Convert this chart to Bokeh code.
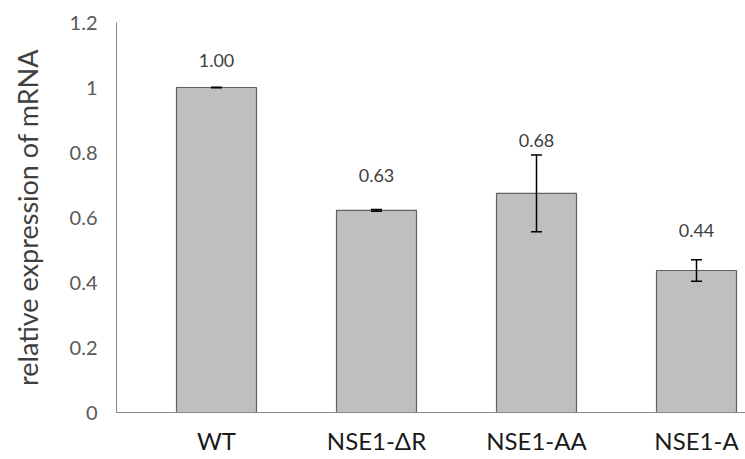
from bokeh.plotting import figure
from bokeh.models import ColumnDataSource, Range1d, FixedTicker, Whisker, TeeHead
from bokeh.embed import file_html
from bokeh.resources import INLINE
from bokeh.core.properties import value

# ---- data ----
categories = ["WT", "NSE1-\u0394R", "NSE1-AA", "NSE1-A"]
means = [1.00, 0.622, 0.674, 0.437]
errors = [0.001, 0.003, 0.118, 0.033]
value_labels = ["1.00", "0.63", "0.68", "0.44"]
y_ticks = [0, 0.2, 0.4, 0.6, 0.8, 1.0, 1.2]
y_tick_labels = ["0", "0.2", "0.4", "0.6", "0.8", "1", "1.2"]

# ---- style ----
label_gap_px = [27, 34, 15, 29]
FONT = "Lato"
W, H = 745, 459
BL, BB, BT, BR = 116, 47, 22, 0
frame_h = H - BT - BB
frame_w = W - BL - BR
px_to_data = 1.2 / frame_h

xs = list(range(len(categories)))
upper = [m + e for m, e in zip(means, errors)]
lower = [m - e for m, e in zip(means, errors)]
label_y = [u + g * px_to_data for u, g in zip(upper, label_gap_px)]

src = ColumnDataSource(dict(x=xs, top=means, upper=upper, lower=lower,
                            ly=label_y, lab=value_labels))

p = figure(width=W, height=H, output_backend="svg", toolbar_location=None,
           x_range=Range1d(-0.625, -0.625 + frame_w / 160.0),
           y_range=Range1d(0, 1.2),
           min_border_left=BL, min_border_bottom=BB, min_border_top=BT,
           min_border_right=BR)
p.outline_line_color = None
p.grid.visible = False
p.background_fill_color = "white"
p.border_fill_color = "white"

p.vbar(x="x", top="top", bottom=0, width=0.5, source=src,
       fill_color="#BFBFBF", line_color="#606060", line_width=1.2)

w = Whisker(base="x", upper="upper", lower="lower", source=src,
            line_color="black", line_width=1.5, level="overlay",
            upper_head=TeeHead(size=11, line_color="black", line_width=1.5),
            lower_head=TeeHead(size=11, line_color="black", line_width=1.5))
p.add_layout(w)

p.text(x="x", y="ly", text="lab", source=src, text_align="center",
       text_baseline="middle", text_font=value(FONT),
       text_font_size="18px", text_color="#404040")

# y axis
ya = p.yaxis[0]
ya.ticker = FixedTicker(ticks=y_ticks)
ya.major_label_overrides = {t: l for t, l in zip(y_ticks, y_tick_labels)}
ya.major_tick_line_color = None
ya.major_tick_out = 0
ya.major_tick_in = 0
ya.minor_tick_line_color = None
ya.minor_tick_out = 0
ya.axis_line_color = "#868686"
ya.axis_line_width = 1
ya.major_label_text_font = FONT
ya.major_label_text_font_size = "20px"
ya.major_label_text_color = "#595959"
ya.major_label_standoff = 19
ya.axis_label = "relative expression of mRNA"
ya.axis_label_text_font = FONT
ya.axis_label_text_font_size = "27px"
ya.axis_label_text_font_style = "normal"
ya.axis_label_text_color = "#404040"
ya.axis_label_standoff = 23

# x axis
xa = p.xaxis[0]
xa.ticker = FixedTicker(ticks=xs)
xa.major_label_overrides = {i: c for i, c in zip(xs, categories)}
xa.major_tick_line_color = None
xa.major_tick_out = 0
xa.major_tick_in = 0
xa.minor_tick_line_color = None
xa.minor_tick_out = 0
xa.axis_line_color = "#868686"
xa.axis_line_width = 1
xa.major_label_text_font = FONT
xa.major_label_text_font_size = "24px"
xa.major_label_text_color = "#1a1a1a"
xa.major_label_standoff = 13

open("out.html", "w").write(file_html(p, INLINE))
